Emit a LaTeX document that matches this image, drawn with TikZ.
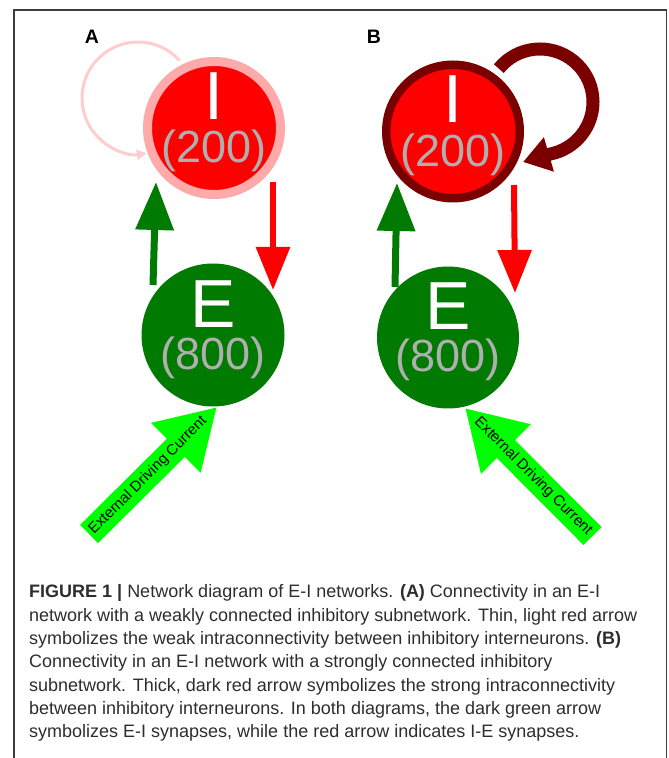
\documentclass[tikz,border=0pt]{standalone}
\usepackage{fontspec}
\setmainfont{Liberation Sans}
\usetikzlibrary{arrows.meta,calc}
\definecolor{dkgreen}{RGB}{0,122,0}
\definecolor{limeg}{RGB}{0,255,0}
\definecolor{ringpink}{RGB}{255,170,170}
\definecolor{looppink}{RGB}{255,205,205}
\definecolor{dkred}{RGB}{122,0,0}
\definecolor{numgray}{RGB}{175,175,175}
\definecolor{captxt}{RGB}{45,45,45}
\definecolor{framec}{RGB}{60,60,60}
\begin{document}
\begin{tikzpicture}[x=1pt,y=1pt,
  neuron/.style={circle,inner sep=0pt,outer sep=0pt},
  bigtxt/.style={anchor=base,inner sep=0pt,text=white,font=\fontsize{68}{68}\selectfont},
  numtxt/.style={anchor=base,inner sep=0pt,text=numgray,font=\fontsize{45}{45}\selectfont},
  exttxt/.style={inner sep=0pt,text=black,font=\fontsize{15}{15}\selectfont},
  panellbl/.style={inner sep=0pt,text=black,font=\fontsize{19.5}{19.5}\selectfont\bfseries},
  captline/.style={anchor=base west,inner sep=0pt,text=captxt,font=\fontsize{18}{23}\selectfont},
  eiarrow/.style={dkgreen,line width=7pt,-{Triangle[length=48pt,width=37pt]}},
  iearrow/.style={red,line width=6pt,-{Triangle[length=43pt,width=33pt]}},
  extarrow/.style={limeg,line width=25.5pt,-{Triangle[length=58pt,width=66pt]}}]
\useasboundingbox (0,0) rectangle (669,758);

% frame
\draw[framec,line width=1.5pt] (14,-3) -- (14,748) -- (666.5,748) -- (666.5,-3);

% panel labels
\node[panellbl] (lblA) at (92,721) {A};
\node[panellbl] (lblB) at (374,721) {B};

% ---------------- Panel A ----------------
\coordinate (loopAc) at (138,660);
\draw[looppink,line width=3pt,-{Triangle[length=10pt,width=10pt]}]
  ($(loopAc)+(42:56)$) arc[start angle=42,end angle=279,radius=56];
\node[neuron,fill=red,draw=ringpink,line width=9pt,minimum size=133pt] (IA) at (214,630) {};
\node[neuron,fill=dkgreen,minimum size=143pt] (EA) at (213,423) {};
\node[bigtxt] (IAt) at ($(IA)+(0,8)$) {I};
\node[numtxt] (IAn) at ($(IA)+(0,-35)$) {(200)};
\node[bigtxt] (EAt) at ($(EA)+(0,7)$) {E};
\node[numtxt] (EAn) at ($(EA)+(0,-35)$) {(800)};

\coordinate (gA0) at ($(EA)+(-60,50)$);
\coordinate (gA1) at ($(IA)+(-58,-54)$);
\draw[eiarrow] (gA0) -- (gA1);
\coordinate (rA0) at ($(IA)+(59,-54)$);
\coordinate (rA1) at ($(EA)+(60,45)$);
\draw[iearrow] (rA0) -- (rA1);

\coordinate (xA0) at (89,224);
\coordinate (xA1) at ($(EA)+(4,-72)$);
\draw[extarrow] (xA0) -- (xA1);
\node[exttxt,rotate=45] (xAt) at ($(xA0)!83pt!(xA1)$) {External Driving Current};

% ---------------- Panel B ----------------
\coordinate (loopBc) at (540,656);
\coordinate (loopBtip) at (523,596);
\draw[dkred,line width=13pt,-{Triangle[length=27pt,width=34pt]}]
  ($(loopBc)+(141:53)$) arc[start angle=141,end angle=-78,radius=53] -- (loopBtip);
\node[neuron,fill=red,draw=dkred,line width=8.5pt,minimum size=133.5pt] (IB) at (453,626.5) {};
\node[neuron,fill=dkgreen,minimum size=142pt] (EB) at (448,420.5) {};
\node[bigtxt] (IBt) at ($(IB)+(0,8.5)$) {I};
\node[numtxt] (IBn) at ($(IB)+(0,-35.5)$) {(200)};
\node[bigtxt] (EBt) at ($(EB)+(0,7.5)$) {E};
\node[numtxt] (EBn) at ($(EB)+(0,-34.5)$) {(800)};

\coordinate (gB0) at ($(EB)+(-53,50.5)$);
\coordinate (gB1) at ($(IB)+(-56,-51.5)$);
\draw[eiarrow] (gB0) -- (gB1);
\coordinate (rB0) at ($(IB)+(61,-53.5)$);
\coordinate (rB1) at ($(EB)+(67,44.5)$);
\draw[iearrow] (rB0) -- (rB1);

\coordinate (xB0) at (592.5,222);
\coordinate (xB1) at ($(EB)+(17,-70.5)$);
\draw[extarrow] (xB0) -- (xB1);
\node[exttxt,rotate=-45] (xBt) at ($(xB0)!84pt!(xB1)$) {External Driving Current};

% ---------------- Caption ----------------
\node[captline] (c1) at (29,160) {\textbf{FIGURE 1 |} Network diagram of E-I networks. \textbf{(A)} Connectivity in an E-I};
\node[captline] (c2) at (29,136.7) {network with a weakly connected inhibitory subnetwork. Thin, light red arrow};
\node[captline] (c3) at (29,113.4) {symbolizes the weak intraconnectivity between inhibitory interneurons. \textbf{(B)}};
\node[captline] (c4) at (29,90.1) {Connectivity in an E-I network with a strongly connected inhibitory};
\node[captline] (c5) at (29,66.8) {subnetwork. Thick, dark red arrow symbolizes the strong intraconnectivity};
\node[captline] (c6) at (29,43.5) {between inhibitory interneurons. In both diagrams, the dark green arrow};
\node[captline] (c7) at (29,20.2) {symbolizes E-I synapses, while the red arrow indicates I-E synapses.};
\end{tikzpicture}
\end{document}
